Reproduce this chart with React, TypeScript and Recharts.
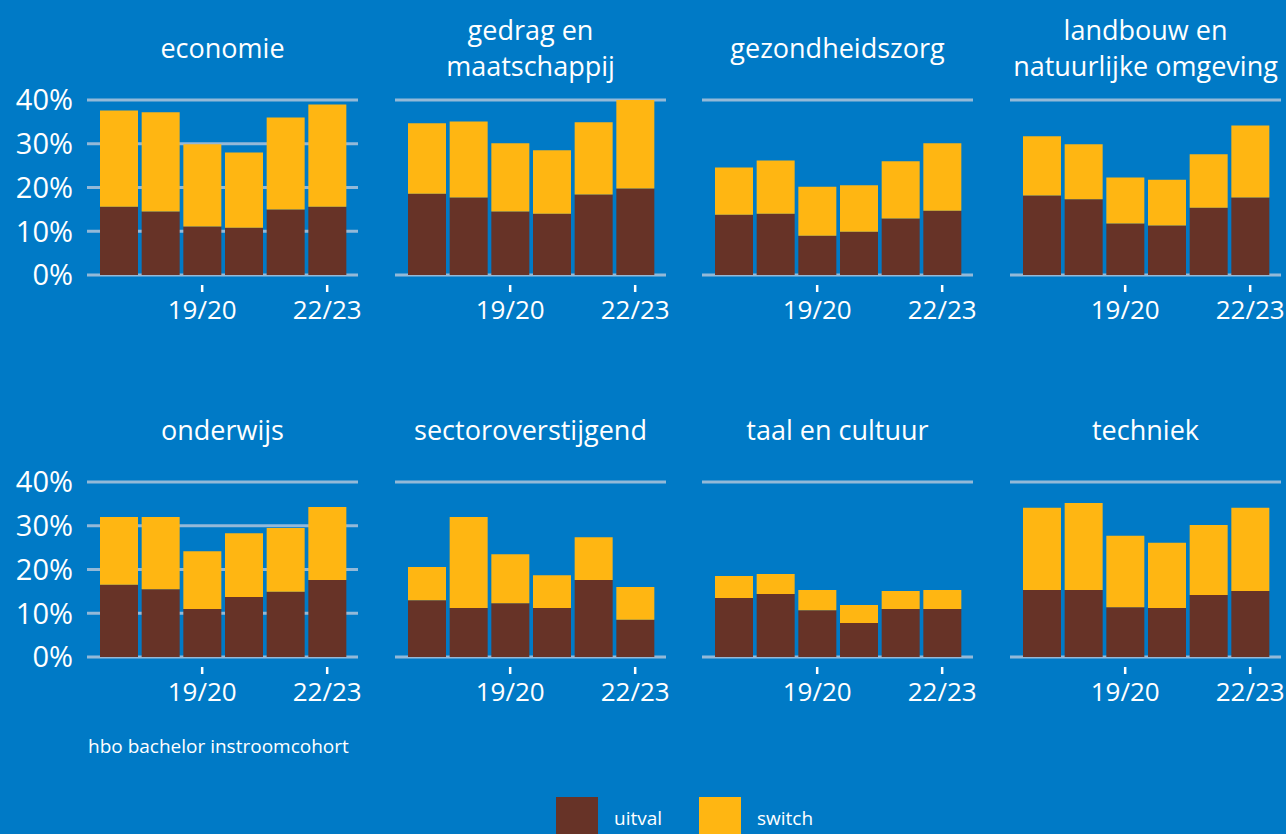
import { BarChart, Bar, XAxis, YAxis, CartesianGrid } from 'recharts';

const cohorts = ['17/18', '18/19', '19/20', '20/21', '21/22', '22/23'];
const labeledCohorts = ['19/20', '22/23'];
const yTicks = [0, 10, 20, 30, 40];

const sectorTitles = [
  ['economie'],
  ['gedrag en', 'maatschappij'],
  ['gezondheidszorg'],
  ['landbouw en', 'natuurlijke omgeving'],
  ['onderwijs'],
  ['sectoroverstijgend'],
  ['taal en cultuur'],
  ['techniek'],
];

// uitval per sector, per cohort (%)
const uitval = [
  [15.6, 14.5, 11.1, 10.8, 15.0, 15.6],
  [18.6, 17.7, 14.5, 14.0, 18.4, 19.8],
  [13.8, 14.0, 9.0, 9.9, 12.9, 14.7],
  [18.2, 17.3, 11.8, 11.3, 15.4, 17.7],
  [16.5, 15.5, 11.0, 13.7, 14.9, 17.6],
  [13.0, 11.2, 12.3, 11.2, 17.6, 8.5],
  [13.5, 14.4, 10.7, 7.8, 11.0, 11.0],
  [15.3, 15.3, 11.4, 11.2, 14.2, 15.1],
];

// switch per sector, per cohort (%)
const switchShare = [
  [22.0, 22.7, 18.8, 17.2, 21.0, 23.4],
  [16.1, 17.4, 15.6, 14.5, 16.5, 20.2],
  [10.8, 12.2, 11.2, 10.6, 13.1, 15.4],
  [13.5, 12.6, 10.5, 10.5, 12.2, 16.5],
  [15.5, 16.5, 13.2, 14.6, 14.6, 16.7],
  [7.6, 20.8, 11.2, 7.5, 9.8, 7.5],
  [5.0, 4.6, 4.6, 4.1, 4.1, 4.3],
  [18.8, 19.9, 16.3, 14.9, 16.0, 19.0],
];

const bg = '#007AC6';
const brown = '#673327';
const yellow = '#FFB612';
const gridColor = '#93B9D8';
const font = '"Open Sans", sans-serif';

const plotLefts = [87, 395, 702, 1010];
const plotTops = [100, 482];
const plotW = 271;
const plotH = 175;
const yAxisW = 87;

function CohortTick(props: any) {
  const { x, y, payload } = props;
  if (!labeledCohorts.includes(payload.value)) return <g />;
  return (
    <g>
      <line x1={x} x2={x} y1={y + 10} y2={y + 17} stroke="#fff" strokeWidth={2.5} />
      <text x={x} y={y + 44} textAnchor="middle" fill="#fff" fontSize={26}>
        {payload.value}
      </text>
    </g>
  );
}

function Panel({ idx }: { idx: number }) {
  const col = idx % 4;
  const row = Math.floor(idx / 4);
  const data = cohorts.map((c, i) => ({
    cohort: c,
    uitval: uitval[idx][i],
    switch: switchShare[idx][i],
  }));
  const lines = sectorTitles[idx];
  const centerX = plotLefts[col] + plotW / 2;
  const titleTop = plotTops[row] - 52 - lines.length * 18;

  return (
    <>
      <div
        style={{
          position: 'absolute',
          left: centerX - 170,
          width: 340,
          top: titleTop,
          textAlign: 'center',
          fontSize: 27,
          lineHeight: '36px',
          color: '#fff',
          whiteSpace: 'nowrap',
        }}
      >
        {lines.map((l) => (
          <div key={l}>{l}</div>
        ))}
      </div>
      <div style={{ position: 'absolute', left: plotLefts[col] - yAxisW, top: plotTops[row] - 20 }}>
        <BarChart
          width={yAxisW + plotW + 5}
          height={20 + plotH + 60}
          data={data}
          margin={{ top: 20, right: 5, bottom: 0, left: 0 }}
          barCategoryGap={2}
        >
          <CartesianGrid vertical={false} stroke={gridColor} strokeWidth={3} />
          <XAxis
            dataKey="cohort"
            interval={0}
            axisLine={false}
            tickLine={false}
            tickSize={0}
            tickMargin={0}
            height={60}
            padding={{ left: 11, right: 10 }}
            tick={(p: any) => <CohortTick {...p} />}
          />
          <YAxis
            domain={[0, 40]}
            ticks={yTicks}
            width={yAxisW}
            axisLine={false}
            tickLine={false}
            tickSize={0}
            tickMargin={14}
            tickFormatter={(v: number) => `${v}%`}
            tick={col === 0 ? { fill: '#fff', fontSize: 29 } : false}
          />
          <Bar dataKey="uitval" stackId="s" fill={brown} isAnimationActive={false} />
          <Bar dataKey="switch" stackId="s" fill={yellow} isAnimationActive={false} />
        </BarChart>
      </div>
    </>
  );
}

export default function App() {
  return (
    <div
      style={{
        position: 'fixed',
        left: 0,
        top: 0,
        width: 1286,
        height: 834,
        background: bg,
        fontFamily: font,
        color: '#fff',
        overflow: 'hidden',
      }}
    >
      {sectorTitles.map((_, i) => (
        <Panel key={i} idx={i} />
      ))}
      <div style={{ position: 'absolute', left: 88, top: 735, fontSize: 19, lineHeight: '22px' }}>
        hbo bachelor instroomcohort
      </div>
      <div style={{ position: 'absolute', left: 556, top: 797, width: 42, height: 40, background: brown }} />
      <div style={{ position: 'absolute', left: 614, top: 807, fontSize: 19, lineHeight: '22px' }}>uitval</div>
      <div style={{ position: 'absolute', left: 699, top: 797, width: 42, height: 40, background: yellow }} />
      <div style={{ position: 'absolute', left: 757, top: 807, fontSize: 19, lineHeight: '22px' }}>switch</div>
    </div>
  );
}
